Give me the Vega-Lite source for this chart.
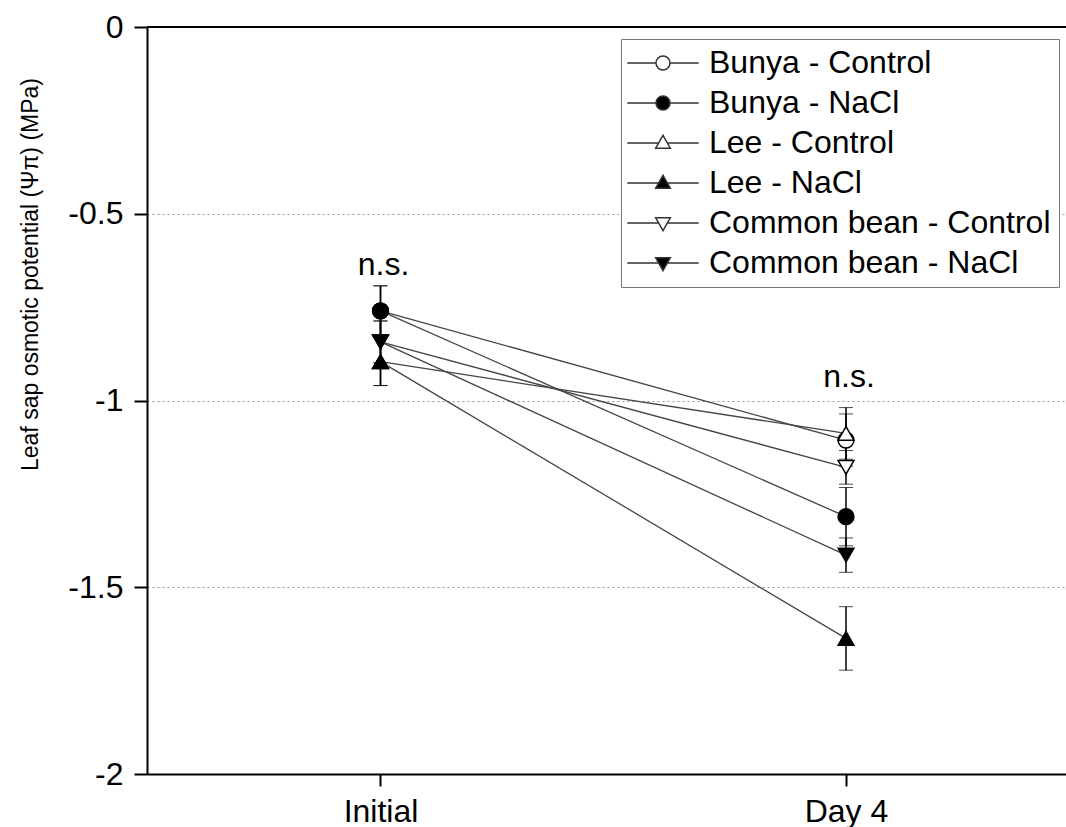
{
  "$schema": "https://vega.github.io/schema/vega-lite/v6.json",
  "width": 919,
  "height": 747,
  "autosize": {"type": "none"},
  "padding": {"left": 147, "top": 27, "right": 0, "bottom": 53},
  "background": "white",
  "config": {"view": {"stroke": null}, "font": "Liberation Sans"},
  "data": {
    "values": [
      {"series": "Bunya - Control", "day": 0, "mean": -0.76, "se": 0.067},
      {"series": "Bunya - Control", "day": 4, "mean": -1.106, "se": 0.07},
      {"series": "Bunya - NaCl", "day": 0, "mean": -0.76, "se": 0.067},
      {"series": "Bunya - NaCl", "day": 4, "mean": -1.311, "se": 0.078},
      {"series": "Lee - Control", "day": 0, "mean": -0.896, "se": 0.064},
      {"series": "Lee - Control", "day": 4, "mean": -1.088, "se": 0.069},
      {"series": "Lee - NaCl", "day": 0, "mean": -0.896, "se": 0.064},
      {"series": "Lee - NaCl", "day": 4, "mean": -1.637, "se": 0.085},
      {"series": "Common bean - Control", "day": 0, "mean": -0.843, "se": 0.056},
      {"series": "Common bean - Control", "day": 4, "mean": -1.179, "se": 0.045},
      {"series": "Common bean - NaCl", "day": 0, "mean": -0.843, "se": 0.056},
      {"series": "Common bean - NaCl", "day": 4, "mean": -1.414, "se": 0.046}
    ]
  },
  "layer": [
    {
      "mark": {
        "type": "errorbar",
        "color": "black",
        "rule": {"strokeWidth": 1.5},
        "ticks": {"size": 14}
      },
      "encoding": {
        "x": {"field": "day", "type": "quantitative", "title": null},
        "y": {"field": "mean", "type": "quantitative", "title": "Leaf sap osmotic potential (Ψπ) (MPa)"},
        "yError": {"field": "se"}
      }
    },
    {
      "mark": {"type": "line", "color": "#444", "strokeWidth": 1.3},
      "encoding": {
        "x": {
          "field": "day",
          "type": "quantitative",
          "title": null,
          "scale": {"domain": [-2.0064, 5.8904], "nice": false, "zero": false},
          "axis": {
            "values": [0, 4],
            "labelExpr": "datum.value == 0 ? 'Initial' : 'Day 4'",
            "grid": false,
            "domainColor": "black",
            "domainWidth": 2,
            "tickColor": "black",
            "tickWidth": 2,
            "tickSize": 12,
            "labelFontSize": 32,
            "labelColor": "black",
            "labelPadding": 10,
            "labelFont": "Liberation Sans"
          }
        },
        "y": {
          "field": "mean",
          "type": "quantitative",
          "title": "Leaf sap osmotic potential (Ψπ) (MPa)",
          "scale": {"domain": [-2, 0], "nice": false, "zero": false},
          "axis": {
            "values": [0, -0.5, -1, -1.5, -2],
            "labelExpr": "datum.value == 0 ? '0' : '-' + format(-datum.value, '~g')",
            "grid": true,
            "gridDash": [2, 3],
            "gridColor": "#999",
            "gridWidth": 1,
            "domainColor": "black",
            "domainWidth": 2,
            "tickColor": "black",
            "tickWidth": 2,
            "tickSize": 13,
            "labelFontSize": 32,
            "labelColor": "black",
            "labelPadding": 11,
            "labelFont": "Liberation Sans",
            "titleFontSize": 23,
            "titleFontWeight": "normal",
            "titleColor": "black",
            "titleFont": "Liberation Sans",
            "titleX": -110,
            "titleY": 247,
            "titleAlign": "center",
            "titleBaseline": "alphabetic",
            "titleAngle": -90
          }
        },
        "detail": {"field": "series"}
      }
    },
    {
      "mark": {"type": "rule", "color": "black", "strokeWidth": 2},
      "encoding": {"y": {"datum": 0, "type": "quantitative", "title": "Leaf sap osmotic potential (Ψπ) (MPa)"}}
    },
    {
      "mark": {"type": "point", "size": 250, "stroke": "black", "strokeWidth": 1.5, "opacity": 1, "fillOpacity": 1},
      "encoding": {
        "x": {"field": "day", "type": "quantitative", "title": null},
        "y": {"field": "mean", "type": "quantitative", "title": "Leaf sap osmotic potential (Ψπ) (MPa)"},
        "shape": {
          "field": "series",
          "type": "nominal",
          "legend": null,
          "scale": {
            "domain": ["Bunya - Control", "Bunya - NaCl", "Lee - Control", "Lee - NaCl", "Common bean - Control", "Common bean - NaCl"],
            "range": ["circle", "circle", "triangle-up", "triangle-up", "triangle-down", "triangle-down"]
          }
        },
        "fill": {
          "field": "series",
          "type": "nominal",
          "legend": null,
          "scale": {
            "domain": ["Bunya - Control", "Bunya - NaCl", "Lee - Control", "Lee - NaCl", "Common bean - Control", "Common bean - NaCl"],
            "range": ["white", "black", "white", "black", "white", "black"]
          }
        }
      }
    },
    {
      "transform": [{"filter": "false"}],
      "mark": {"type": "point", "size": 196, "stroke": "#333", "strokeWidth": 1.3, "opacity": 1, "fillOpacity": 1},
      "encoding": {
        "x": {"field": "day", "type": "quantitative", "title": null},
        "y": {"field": "mean", "type": "quantitative", "title": "Leaf sap osmotic potential (Ψπ) (MPa)"},
        "shape": {
          "field": "series",
          "type": "nominal",
          "scale": {
            "domain": ["Bunya - Control", "Bunya - NaCl", "Lee - Control", "Lee - NaCl", "Common bean - Control", "Common bean - NaCl"],
            "range": [
              "M-5.1,0H-1M1,0H5.1M1,0A1,1,0,1,1,-1,0A1,1,0,1,1,1,0Z",
              "M-5.1,0H-1M1,0H5.1M1,0A1,1,0,1,1,-1,0A1,1,0,1,1,1,0Z",
              "M-5.1,0H-0.62M0.62,0H5.1M0,-1.1L1.05,0.75L-1.05,0.75Z",
              "M-5.1,0H-0.62M0.62,0H5.1M0,-1.1L1.05,0.75L-1.05,0.75Z",
              "M-5.1,0H-0.62M0.62,0H5.1M0,1.1L1.05,-0.75L-1.05,-0.75Z",
              "M-5.1,0H-0.62M0.62,0H5.1M0,1.1L1.05,-0.75L-1.05,-0.75Z"
            ]
          },
          "legend": {
            "title": null,
            "orient": "none",
            "legendX": 474,
            "legendY": 12,
            "padding": 8,
            "strokeColor": "#777",
            "fillColor": "white",
            "labelFontSize": 32,
            "labelFont": "Liberation Sans",
            "labelColor": "black",
            "labelLimit": 500,
            "symbolSize": 196,
            "symbolOffset": 18,
            "labelOffset": 30,
            "rowPadding": 8
          }
        },
        "fill": {
          "field": "series",
          "type": "nominal",
          "scale": {
            "domain": ["Bunya - Control", "Bunya - NaCl", "Lee - Control", "Lee - NaCl", "Common bean - Control", "Common bean - NaCl"],
            "range": ["white", "black", "white", "black", "white", "black"]
          },
          "legend": {
            "title": null,
            "orient": "none",
            "legendX": 474,
            "legendY": 12,
            "padding": 8,
            "strokeColor": "#777",
            "fillColor": "white",
            "labelFontSize": 32,
            "labelFont": "Liberation Sans",
            "labelColor": "black",
            "labelLimit": 500,
            "symbolSize": 196,
            "symbolOffset": 18,
            "labelOffset": 30,
            "rowPadding": 8
          }
        }
      }
    },
    {
      "data": {"values": [{"day": 0, "pos": -0.664, "label": "n.s."}, {"day": 4, "pos": -0.964, "label": "n.s."}]},
      "mark": {"type": "text", "fontSize": 32, "baseline": "alphabetic", "align": "center", "dx": 3, "color": "black", "font": "Liberation Sans"},
      "encoding": {
        "x": {"field": "day", "type": "quantitative", "title": null},
        "y": {"field": "pos", "type": "quantitative", "title": "Leaf sap osmotic potential (Ψπ) (MPa)"},
        "text": {"field": "label"}
      }
    }
  ],
  "resolve": {"scale": {"shape": "independent", "fill": "independent"}}
}
